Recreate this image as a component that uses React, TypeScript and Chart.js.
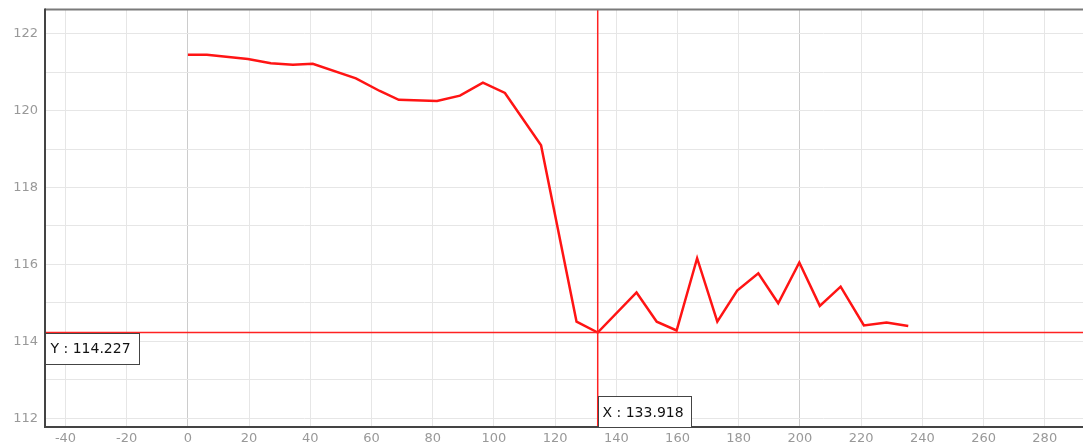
import { useEffect, useRef } from "react";
import { Chart, registerables } from "chart.js";

Chart.register(...registerables);

const xValues = [0, 6.2, 19.6, 27.1, 34.3, 40.8, 54.9, 62.7, 68.9, 81.4, 88.9, 96.4, 103.6, 115.4, 127.0, 133.918, 146.6, 153.2, 159.7, 166.4, 173.0, 179.5, 186.4, 192.9, 199.8, 206.5, 213.3, 220.9, 228.3, 235.4];
const yValues = [121.45, 121.45, 121.34, 121.23, 121.19, 121.22, 120.84, 120.51, 120.28, 120.25, 120.39, 120.73, 120.46, 119.10, 114.51, 114.227, 115.27, 114.51, 114.28, 116.16, 114.51, 115.32, 115.77, 114.99, 116.05, 114.92, 115.42, 114.41, 114.49, 114.40];

const xTicks = [-40, -20, 0, 20, 40, 60, 80, 100, 120, 140, 160, 180, 200, 220, 240, 260, 280];
const yGridTicks = [112, 113, 114, 115, 116, 117, 118, 119, 120, 121, 122];
const yLabelTicks = [112, 114, 116, 118, 120, 122];

const xMin = -46.7;
const xMax = 292.5;
const yMin = 111.77;
const yMax = 122.63;

const crossX = 133.918;
const crossY = 114.227;

const FONT = "'DejaVu Sans', Verdana, sans-serif";

const overlayPlugin = {
  id: "overlay",
  afterDatasetsDraw(chart: any) {
    const { ctx, chartArea, scales } = chart;
    const { left, right, top, bottom } = chartArea;
    const xs = scales.x;
    const ys = scales.y;
    ctx.save();

    // crosshair lines
    const xp = xs.getPixelForValue(crossX);
    const yp = ys.getPixelForValue(crossY);
    ctx.strokeStyle = "#ff2222";
    ctx.lineWidth = 1.5;
    ctx.beginPath();
    ctx.moveTo(xp, top);
    ctx.lineTo(xp, bottom);
    ctx.stroke();
    ctx.beginPath();
    ctx.moveTo(left, yp);
    ctx.lineTo(right, yp);
    ctx.stroke();

    // frame
    ctx.lineWidth = 2;
    ctx.strokeStyle = "#7a7a7a";
    ctx.beginPath();
    ctx.moveTo(left, top);
    ctx.lineTo(right, top);
    ctx.stroke();
    ctx.strokeStyle = "#444444";
    ctx.beginPath();
    ctx.moveTo(left, top - 1);
    ctx.lineTo(left, bottom);
    ctx.lineTo(right, bottom);
    ctx.stroke();

    // labels
    ctx.font = "14px " + FONT;
    ctx.textBaseline = "middle";
    ctx.textAlign = "left";
    const yText = "Y : " + crossY.toFixed(3);
    const xText = "X : " + crossX.toFixed(3);
    ctx.lineWidth = 1;

    const yw = Math.round(ctx.measureText(yText).width + 14);
    const ybx = Math.round(left) + 0.5;
    const yby = Math.round(yp) + 0.5;
    ctx.fillStyle = "#ffffff";
    ctx.fillRect(ybx, yby, yw, 31);
    ctx.strokeStyle = "#444444";
    ctx.strokeRect(ybx, yby, yw, 31);
    ctx.fillStyle = "#111111";
    ctx.fillText(yText, ybx + 5, yby + 16);

    const xw = Math.round(ctx.measureText(xText).width + 12);
    const xbx = Math.round(xp) + 0.5;
    const xby = Math.round(bottom) - 30.5;
    ctx.fillStyle = "#ffffff";
    ctx.fillRect(xbx, xby, xw, 31);
    ctx.strokeStyle = "#444444";
    ctx.strokeRect(xbx, xby, xw, 31);
    ctx.fillStyle = "#111111";
    ctx.fillText(xText, xbx + 4, xby + 16.5);

    ctx.restore();
  },
};

export default function App() {
  const ref = useRef<HTMLCanvasElement | null>(null);

  useEffect(() => {
    if (!ref.current) return;
    const points = xValues.map((x, i) => ({ x, y: yValues[i] }));
    const chart = new Chart(ref.current, {
      type: "line",
      data: {
        datasets: [
          {
            data: points,
            borderColor: "#ff1414",
            borderWidth: 2.5,
            pointRadius: 0,
            tension: 0,
            fill: false,
          },
        ],
      },
      options: {
        responsive: false,
        animation: false,
        devicePixelRatio: 1,
        layout: { padding: { top: 9.5, right: 0, left: 0, bottom: 0 } },
        plugins: {
          legend: { display: false },
          tooltip: { enabled: false },
        },
        scales: {
          x: {
            type: "linear",
            min: xMin,
            max: xMax,
            afterBuildTicks: (scale: any) => {
              scale.ticks = xTicks.map((v) => ({ value: v }));
            },
            afterFit: (scale: any) => {
              scale.height = 20;
              scale.paddingLeft = 0;
              scale.paddingRight = 0;
            },
            border: { display: false },
            grid: {
              drawTicks: false,
              color: (c: any) =>
                c.tick && c.tick.value % 200 === 0 ? "#cccccc" : "#e6e6e6",
              lineWidth: 1,
            },
            ticks: {
              autoSkip: false,
              maxRotation: 0,
              padding: 4,
              color: "#999999",
              font: { family: FONT, size: 13 },
              callback: (v: any) => String(v),
            },
          },
          y: {
            type: "linear",
            min: yMin,
            max: yMax,
            afterBuildTicks: (scale: any) => {
              scale.ticks = yGridTicks.map((v) => ({ value: v }));
            },
            afterFit: (scale: any) => {
              scale.width = 45;
              scale.paddingTop = 0;
              scale.paddingBottom = 0;
            },
            border: { display: false },
            grid: {
              drawTicks: false,
              color: "#e6e6e6",
              lineWidth: 1,
            },
            ticks: {
              autoSkip: false,
              padding: 7,
              color: "#999999",
              font: { family: FONT, size: 13 },
              callback: (v: any) =>
                yLabelTicks.includes(Number(v)) ? String(v) : "",
            },
          },
        },
      },
      plugins: [overlayPlugin],
    });
    return () => chart.destroy();
  }, []);

  return (
    <div style={{ position: "fixed", left: 0, top: 0, width: 1083, height: 447, background: "#fff" }}>
      <canvas ref={ref} width={1083} height={447} style={{ display: "block" }} />
    </div>
  );
}
